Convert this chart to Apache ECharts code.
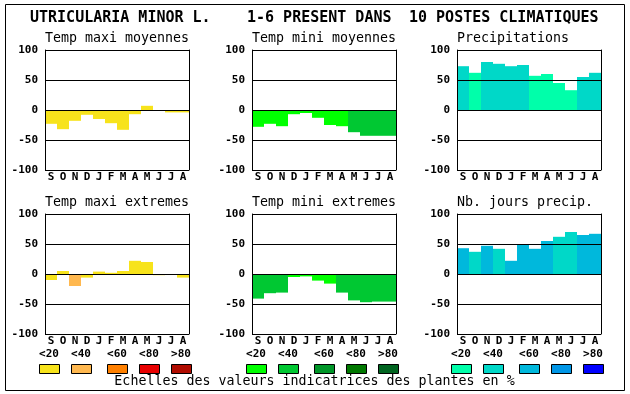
<!DOCTYPE html>
<html>
<head>
<meta charset="utf-8">
<script src="https://cdn.jsdelivr.net/npm/echarts@6/dist/echarts.min.js"></script>
<style>
html,body{margin:0;padding:0;background:#fff;}
#c{width:630px;height:394px;}
</style>
</head>
<body>
<div id="c"></div>
<script>
// ---- data ----
const months = ['S','O','N','D','J','F','M','A','M','J','J','A'];
const yMin = -100, yMax = 100, yStep = 50;
const scaleLabels = ['<20','<40','<60','<80','>80'];
const yellowScale = ['#f7e31b','#ffb84f','#ff8000','#e80000','#b00c00'];
const greenScale  = ['#00ff00','#00c832','#009628','#007800','#006420'];
const blueScale   = ['#00ffaa','#00d8c8','#00b8dc','#0096e6','#0000ff'];

const titleLeft = 'UTRICULARIA MINOR L.';
const titleMid = '1-6 PRESENT DANS';
const titleRight = '10 POSTES CLIMATIQUES';
const caption = 'Echelles des valeurs indicatrices des plantes en %';

const subtitles = ['Temp maxi moyennes','Temp mini moyennes','Precipitations',
                   'Temp maxi extremes','Temp mini extremes','Nb. jours precip.'];

const tempMaxiMoy    = [-23,-32,-18,-8,-15,-22,-33,-7,7,0,-4,-4];
const tempMaxiMoyCls = [0,0,0,0,0,0,0,0,0,0,0,0];
const tempMiniMoy    = [-28,-23,-27,-7,-5,-13,-25,-27,-37,-43,-43,-43];
const tempMiniMoyCls = [0,0,0,0,0,0,0,0,1,1,1,1];
const precip         = [73,62,80,77,73,75,57,60,45,33,55,62];
const precipCls      = [1,0,1,1,1,1,0,0,0,0,1,1];
const tempMaxiExt    = [-10,5,-20,-6,4,2,5,22,20,-2,0,-6];
const tempMaxiExtCls = [0,0,1,0,0,0,0,0,0,0,0,0];
const tempMiniExt    = [-41,-32,-31,-5,-4,-11,-16,-31,-44,-47,-46,-46];
const tempMiniExtCls = [1,1,1,0,0,0,0,1,1,1,1,1];
const nbJours        = [43,37,47,42,22,49,42,55,62,70,65,67];
const nbJoursCls     = [2,1,2,1,2,2,2,2,1,1,2,2];

const panels = [
  {vals: tempMaxiMoy, cls: tempMaxiMoyCls, scale: yellowScale},
  {vals: tempMiniMoy, cls: tempMiniMoyCls, scale: greenScale},
  {vals: precip,      cls: precipCls,      scale: blueScale},
  {vals: tempMaxiExt, cls: tempMaxiExtCls, scale: yellowScale},
  {vals: tempMiniExt, cls: tempMiniExtCls, scale: greenScale},
  {vals: nbJours,     cls: nbJoursCls,     scale: blueScale}
];

// ---- layout ----
const colLefts = [45, 252, 457];
const rowTops = [50, 214];
const plotW = 144, plotH = 120;
const MONO = '"DejaVu Sans Mono", monospace';

const grids = [], xAxes = [], yAxes = [], series = [];
panels.forEach((p, i) => {
  const col = i % 3, row = Math.floor(i / 3);
  grids.push({left: colLefts[col], top: rowTops[row], width: plotW, height: plotH, containLabel: false});
  xAxes.push({
    gridIndex: i, type: 'category', data: months,
    axisLine: {show: false}, axisTick: {show: false}, splitLine: {show: false},
    axisLabel: {interval: 0, color: '#000', fontFamily: MONO, fontWeight: 'bold', fontSize: 11, margin: 2}
  });
  yAxes.push({
    gridIndex: i, type: 'value', min: yMin, max: yMax, interval: yStep, position: 'left', z: 10,
    axisLine: {show: true, lineStyle: {color: '#000', width: 1}},
    axisTick: {show: false},
    splitLine: {show: true, lineStyle: {color: '#000', width: 1}},
    axisLabel: {color: '#000', fontFamily: MONO, fontWeight: 'bold', fontSize: 11, margin: 7}
  });
  yAxes.push({
    gridIndex: i, type: 'value', min: yMin, max: yMax, interval: yStep, position: 'right', z: 10,
    axisLine: {show: true, lineStyle: {color: '#000', width: 1}},
    axisTick: {show: false}, splitLine: {show: false}, axisLabel: {show: false}
  });
  series.push({
    type: 'bar', xAxisIndex: i, yAxisIndex: 2 * i,
    barCategoryGap: '0%', barGap: '0%',
    data: p.vals.map((v, j) => ({value: v, itemStyle: {color: p.scale[p.cls[j]]}}))
  });
});

// ---- texts / legend scale ----
const graphic = [];
graphic.push({type: 'rect', shape: {x: 5.5, y: 4.5, width: 619, height: 386},
  style: {fill: 'none', stroke: '#000', lineWidth: 1}, z: 100});
const titleFont = 'bold 15px ' + MONO;
graphic.push({type: 'text', x: 30, y: 18, style: {text: titleLeft, font: titleFont, fill: '#000', textVerticalAlign: 'middle'}});
graphic.push({type: 'text', x: 247, y: 18, style: {text: titleMid, font: titleFont, fill: '#000', textVerticalAlign: 'middle'}});
graphic.push({type: 'text', x: 409, y: 18, style: {text: titleRight, font: titleFont, fill: '#000', textVerticalAlign: 'middle'}});
const subFont = '13.3px ' + MONO;
const subY = [39, 203];
subtitles.forEach((s, i) => {
  const col = i % 3, row = Math.floor(i / 3);
  graphic.push({type: 'text', x: colLefts[col], y: subY[row],
    style: {text: s, font: subFont, fill: '#000', textVerticalAlign: 'middle'}});
});
const scales = [yellowScale, greenScale, blueScale];
const boxOffsets = [-6, 26, 62, 94, 126];
colLefts.forEach((lx, c) => {
  boxOffsets.forEach((o, k) => {
    graphic.push({type: 'text', x: lx + o + 10, y: 354,
      style: {text: scaleLabels[k], font: 'bold 11px ' + MONO, fill: '#000', textAlign: 'center', textVerticalAlign: 'middle'}});
    graphic.push({type: 'rect', shape: {x: lx + o + 0.5, y: 364.5, width: 20, height: 9},
      style: {fill: scales[c][k], stroke: '#000', lineWidth: 1}});
  });
});
graphic.push({type: 'text', x: 314.5, y: 382,
  style: {text: caption, font: subFont, fill: '#000', textAlign: 'center', textVerticalAlign: 'middle'}});

const chart = echarts.init(document.getElementById('c'));
chart.setOption({
  animation: false,
  backgroundColor: '#fff',
  grid: grids, xAxis: xAxes, yAxis: yAxes, series: series,
  graphic: graphic
});
</script>
</body>
</html>
